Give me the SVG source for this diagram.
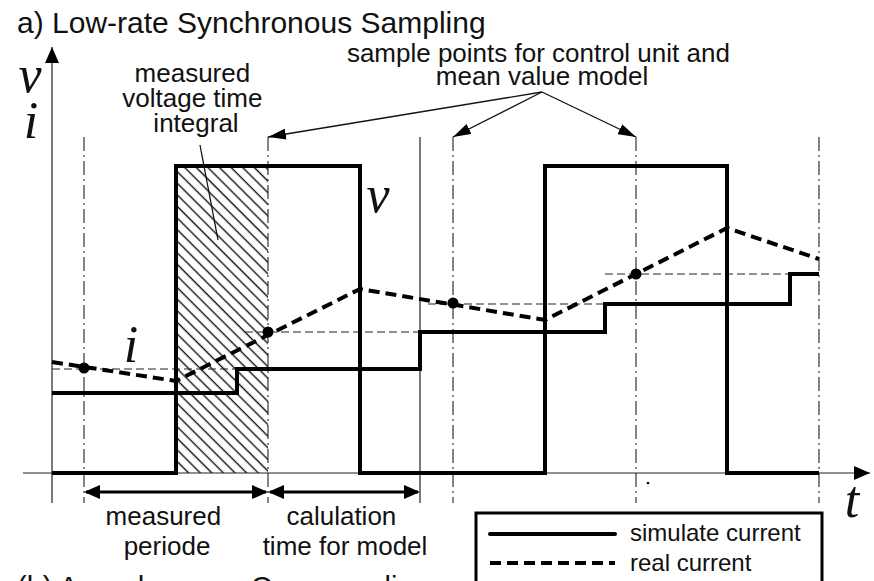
<svg xmlns="http://www.w3.org/2000/svg" width="874" height="581" viewBox="0 0 874 581">
  <style>
    .sans { font-family: "Liberation Sans", Arial, sans-serif; fill: #111; }
    .ital { font-family: "Liberation Serif", "Times New Roman", serif; font-style: italic; fill: #111; }
    .thin { stroke: #222; stroke-width: 1.2; fill: none; }
    .dashdot { stroke: #222; stroke-width: 1.1; fill: none; stroke-dasharray: 14 4 2 4; }
    .hold { stroke: #222; stroke-width: 1; fill: none; stroke-dasharray: 8 4; }
    .thick { stroke: #000; stroke-width: 4; fill: none; stroke-linejoin: miter; }
    .thickdash { stroke: #000; stroke-width: 4; fill: none; stroke-dasharray: 11 6; }
    .leader { stroke: #111; stroke-width: 1.3; fill: none; }
    .dim { stroke: #000; stroke-width: 3; fill: none; }
  </style>
  <defs>
    <pattern id="hatch" patternUnits="userSpaceOnUse" width="8.2" height="8.2" patternTransform="rotate(-45)">
      <line x1="4" y1="-1" x2="4" y2="10" stroke="#111" stroke-width="1.4"/>
    </pattern>
    <marker id="axisArrow" viewBox="0 0 16 14" refX="16" refY="7" markerWidth="16" markerHeight="14" markerUnits="userSpaceOnUse" orient="auto">
      <path d="M0,0 L16,7 L0,14 z" fill="#000"/>
    </marker>
    <marker id="leadArrow" viewBox="0 0 18 11" refX="18" refY="5.5" markerWidth="18" markerHeight="11" markerUnits="userSpaceOnUse" orient="auto">
      <path d="M0,0 L18,5.5 L0,11 z" fill="#000"/>
    </marker>
    <marker id="dimArrow" viewBox="0 0 16 14" refX="14" refY="7" markerWidth="16" markerHeight="14" markerUnits="userSpaceOnUse" orient="auto-start-reverse">
      <path d="M0,0 L16,7 L0,14 z" fill="#000"/>
    </marker>
  </defs>

  <!-- title -->
  <text class="sans" x="17" y="33" font-size="30">a) Low-rate Synchronous Sampling</text>

  <!-- hatched measurement window -->
  <rect id="integral-area" x="176" y="166" width="92" height="307" fill="url(#hatch)"/>

  <!-- axes and reference lines -->
  <g id="axes">
    <line class="thin" x1="52" y1="503" x2="52" y2="47" marker-end="url(#axisArrow)"/>
    <line class="thin" x1="23" y1="473" x2="870" y2="473" marker-end="url(#axisArrow)"/>
    <line class="thin" x1="420" y1="137" x2="420" y2="503"/>
  </g>
  <g id="sample-instants">
    <line class="dashdot" x1="84" y1="137" x2="84" y2="503"/>
    <line class="dashdot" x1="268" y1="137" x2="268" y2="503"/>
    <line class="dashdot" x1="453" y1="137" x2="453" y2="503"/>
    <line class="dashdot" x1="636" y1="137" x2="636" y2="503"/>
    <line class="dashdot" x1="819" y1="137" x2="819" y2="503"/>
  </g>
  <g id="held-levels">
    <line class="hold" x1="52" y1="369" x2="237" y2="369"/>
    <line class="hold" x1="245" y1="332" x2="420" y2="332"/>
    <line class="hold" x1="428" y1="304" x2="605" y2="304"/>
    <line class="hold" x1="605" y1="274" x2="790" y2="274"/>
  </g>

  <!-- waveforms -->
  <g id="voltage">
    <path class="thick" d="M52,473 H176 V166 H360 V473 H545 V166 H727 V473 H819"/>
  </g>
  <g id="simulated-current">
    <path class="thick" d="M52,393 H237 V369 H420 V332 H605 V304 H790 V274 H819"/>
  </g>
  <g id="real-current">
    <path class="thickdash" d="M52,362 L176,381 L360,289 L545,320 L727,228 L819,259"/>
  </g>
  <g id="sample-points" fill="#000">
    <circle cx="84" cy="368" r="5.5"/>
    <circle cx="268" cy="332" r="5.5"/>
    <circle cx="453" cy="303" r="5.5"/>
    <circle cx="636" cy="274" r="5.5"/>
    <circle cx="648" cy="483" r="1.3"/>
  </g>

  <!-- axis and curve letters -->
  <g id="symbols">
    <text class="ital" x="30" y="92" font-size="52" text-anchor="middle">v</text>
    <text class="ital" x="31" y="138" font-size="52" text-anchor="middle">i</text>
    <text class="ital" x="378" y="212" font-size="52" text-anchor="middle">v</text>
    <text class="ital" x="131" y="362" font-size="52" text-anchor="middle">i</text>
    <text class="ital" x="852" y="517" font-size="52" text-anchor="middle">t</text>
  </g>

  <!-- annotations -->
  <g id="integral-note">
    <text class="sans" font-size="26" text-anchor="middle">
      <tspan x="196" y="82">measured</tspan>
      <tspan x="196" y="107">voltage time</tspan>
      <tspan x="196" y="132">integral</tspan>
    </text>
  </g>
  <g id="sample-note">
    <text class="sans" font-size="26" text-anchor="middle">
      <tspan x="542" y="62">sample points for control unit and</tspan>
      <tspan x="542" y="85">mean value model</tspan>
    </text>
  </g>
  <g id="connectors">
    <line class="leader" x1="200" y1="145" x2="218" y2="240"/>
    <line class="leader" x1="542" y1="92" x2="268" y2="137" marker-end="url(#leadArrow)"/>
    <line class="leader" x1="542" y1="92" x2="453" y2="137" marker-end="url(#leadArrow)"/>
    <line class="leader" x1="542" y1="92" x2="636" y2="137" marker-end="url(#leadArrow)"/>
    <line class="dim" x1="86" y1="492" x2="266" y2="492" marker-start="url(#dimArrow)" marker-end="url(#dimArrow)"/>
    <line class="dim" x1="270" y1="492" x2="418" y2="492" marker-start="url(#dimArrow)" marker-end="url(#dimArrow)"/>
  </g>
  <g id="interval-labels">
    <text class="sans" font-size="26" text-anchor="middle">
      <tspan x="167" y="525">measured</tspan>
      <tspan x="167" y="555">periode</tspan>
    </text>
    <text class="sans" font-size="26" text-anchor="middle">
      <tspan x="345" y="525">calulation</tspan>
      <tspan x="345" y="555">time for model</tspan>
    </text>
  </g>

  <!-- legend -->
  <g id="legend">
    <rect x="476" y="513" width="346" height="90" fill="#fff" stroke="#000" stroke-width="3"/>
    <line class="thick" x1="490" y1="534" x2="615" y2="534" stroke-linecap="round"/>
    <line class="thickdash" x1="490" y1="563" x2="615" y2="563" stroke-dasharray="10 5"/>
    <text class="sans" x="630" y="541" font-size="24">simulate current</text>
    <text class="sans" x="630" y="571" font-size="24">real current</text>
  </g>

  <!-- next panel caption, cut by the lower edge -->
  <text class="sans" x="17" y="597" font-size="29">(b) Asynchronous Oversampling</text>
</svg>
